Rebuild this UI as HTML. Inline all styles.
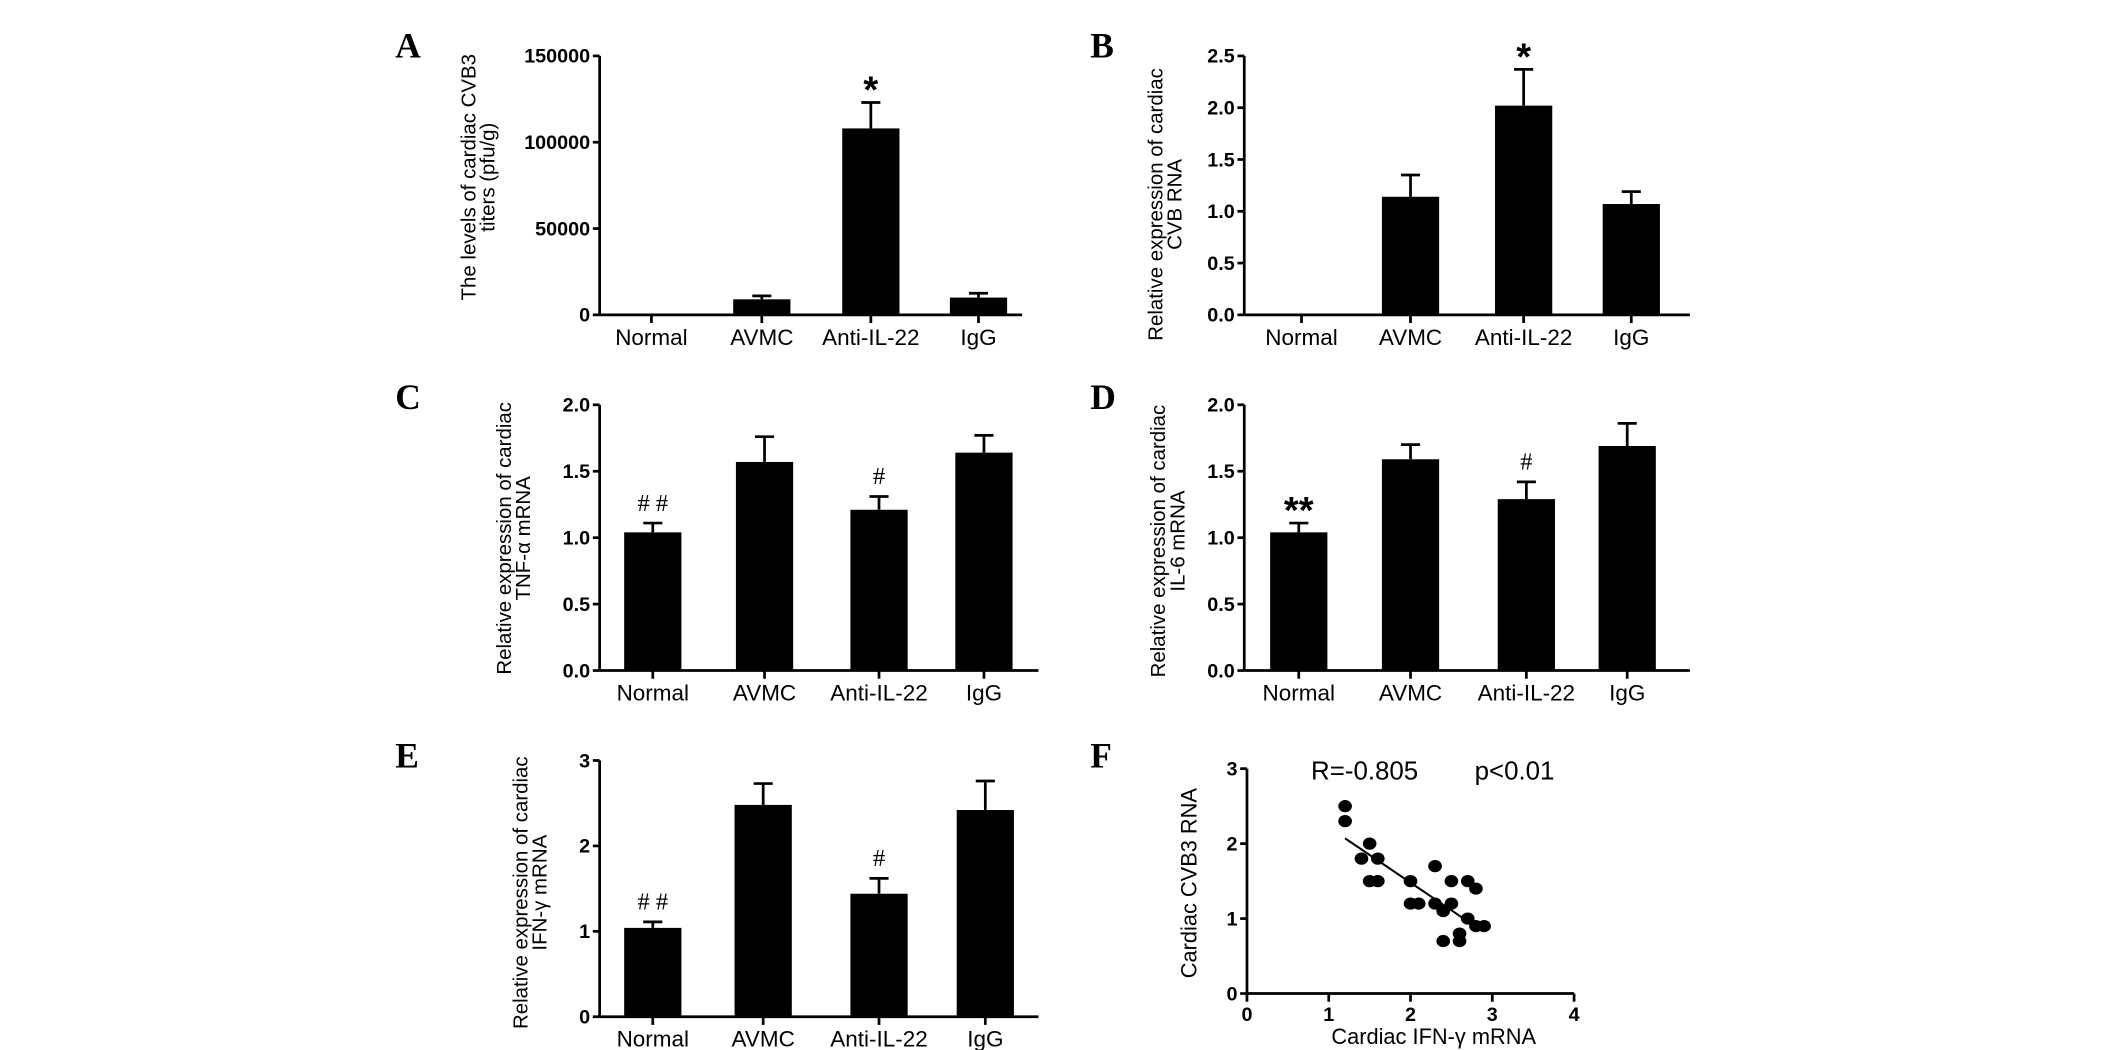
<!DOCTYPE html>
<html><head><meta charset="utf-8"><style>
html,body{margin:0;padding:0;background:#fff;}
svg{display:block;}
.tick{font-family:"Liberation Sans Narrow","Liberation Sans",sans-serif;font-weight:bold;font-size:14.5px;}
.cat{font-family:"Liberation Sans Narrow","Liberation Sans",sans-serif;font-size:16.5px;}
.lab{font-family:"Liberation Sans",sans-serif;font-size:15px;}
.pl{font-family:"Liberation Serif",serif;font-weight:bold;font-size:26px;}
</style></head><body>
<svg id="fig" width="2126" height="1050" viewBox="0 0 1560 770.4" xmlns="http://www.w3.org/2000/svg"></svg>
<script>
const categories = ["Normal","AVMC","Anti-IL-22","IgG"];
const valuesA = [0, 9000, 108000, 10000];
const errorsA = [0, 11000, 123000, 12500];
const ticksA = [0, 50000, 100000, 150000];
const valuesB = [0, 1.14, 2.02, 1.07];
const errorsB = [0, 1.35, 2.37, 1.19];
const ticksB = [0.0, 0.5, 1.0, 1.5, 2.0, 2.5];
const valuesC = [1.04, 1.57, 1.21, 1.64];
const errorsC = [1.11, 1.76, 1.31, 1.77];
const ticksC = [0.0, 0.5, 1.0, 1.5, 2.0];
const valuesD = [1.04, 1.59, 1.29, 1.69];
const errorsD = [1.11, 1.70, 1.42, 1.86];
const ticksD = [0.0, 0.5, 1.0, 1.5, 2.0];
const valuesE = [1.04, 2.48, 1.44, 2.42];
const errorsE = [1.11, 2.73, 1.62, 2.76];
const ticksE = [0, 1, 2, 3];
const annotA = ["", "", "*", ""];
const annotB = ["", "", "*", ""];
const annotC = ["##", "", "#", ""];
const annotD = ["**", "", "#", ""];
const annotE = ["##", "", "#", ""];
const scatterX = [1.2,1.2,1.5,1.4,1.6,1.5,1.6,2.0,2.0,2.1,2.3,2.3,2.4,2.5,2.5,2.7,2.8,2.7,2.8,2.9,2.4,2.6,2.6];
const scatterY = [2.5,2.3,2.0,1.8,1.8,1.5,1.5,1.5,1.2,1.2,1.7,1.2,1.1,1.2,1.5,1.5,1.4,1.0,0.9,0.9,0.7,0.7,0.8];
const fitX = [1.2, 2.65];
const fitY = [2.07, 1.0];
const ticksFx = [0,1,2,3,4];
const ticksFy = [0,1,2,3];

const NS="http://www.w3.org/2000/svg";
const svg=document.getElementById('fig');
function el(tag,attrs,parent,text){const e=document.createElementNS(NS,tag);for(const k in attrs)e.setAttribute(k,attrs[k]);if(text!==undefined)e.textContent=text;(parent||svg).appendChild(e);return e;}

function barPanel(o){
  const g=el('g',{});
  
  
  const ymax=o.ticks[o.ticks.length-1];
  const y=v=>o.y0-(v/ymax)*(o.y0-o.yTop);
  const L=el('text',{x:o.letterX,y:o.letterY,class:'pl'},g,o.id.toUpperCase());
  
  
  const ax=el('line',{x1:o.ax,y1:o.yTop,x2:o.ax,y2:o.y0,stroke:'#000','stroke-width':2},g);
  
  
  const xx=el('line',{x1:o.ax,y1:o.y0,x2:o.xEnd,y2:o.y0,stroke:'#000','stroke-width':2},g);
  
  
  o.ticks.forEach(t=>{
    el('line',{x1:o.ax-5,y1:y(t),x2:o.ax,y2:y(t),stroke:'#000','stroke-width':2},g);
    const tl=el('text',{x:o.ax-7,y:y(t)+5,'text-anchor':'end',class:'tick'},g,o.fmt(t));
    
    
  });
  categories.forEach((c,i)=>{
    const cx=o.cx[i];
    el('line',{x1:cx,y1:o.y0,x2:cx,y2:o.y0+6,stroke:'#000','stroke-width':2},g);
    const cl=el('text',{x:cx,y:o.y0+22,'text-anchor':'middle',class:'cat'},g,c);
    
    
    const v=o.values[i];
    if(v>0){
      const b=el('rect',{x:cx-21,y:y(v),width:42,height:o.y0-y(v),fill:'#000'},g);
      
      
      const e=o.errors[i];
      el('line',{x1:cx,y1:y(v),x2:cx,y2:y(e),stroke:'#000','stroke-width':2},g);
      el('line',{x1:cx-7,y1:y(e),x2:cx+7,y2:y(e),stroke:'#000','stroke-width':2},g);
    }
    if(o.annot[i]){
      const star=o.annot[i].indexOf('*')>=0;
      const st=star?'font-family:"Liberation Sans",sans-serif;font-weight:bold;font-size:28px;':'font-family:"Liberation Serif",serif;font-size:18px;';
      const a=el('text',{x:cx,y:y(o.errors[i])-(star?0:9),'text-anchor':'middle',style:st},g,star?o.annot[i]:o.annot[i].split('').join(' '));
      
      
    }
  });
  const midY=(o.yTop+o.y0)/2;
  o.ylab.forEach((t,k)=>{
    const yl=el('text',{x:0,y:0,'text-anchor':'middle',class:'lab',transform:`translate(${o.labX+k*14},${o.labY||midY}) rotate(-90)`},g,t);
    
    
  });
}
const f1=t=>t.toFixed(1), f0=t=>String(t);
barPanel({id:'a',values:valuesA,errors:errorsA,ticks:ticksA,annot:annotA,fmt:f0,ax:440,xEnd:750,yTop:41,y0:231,cx:[478,559,639,718],letterX:290,letterY:42,ylab:['The levels of cardiac CVB3','titers  (pfu/g)'],labX:349,labY:130});
barPanel({id:'b',values:valuesB,errors:errorsB,ticks:ticksB,annot:annotB,fmt:f1,ax:913,xEnd:1240,yTop:41,y0:231,cx:[955,1035,1118,1197],letterX:800,letterY:42,ylab:['Relative expression of cardiac','CVB RNA'],labX:853,labY:150});
barPanel({id:'c',values:valuesC,errors:errorsC,ticks:ticksC,annot:annotC,fmt:f1,ax:440,xEnd:762,yTop:297,y0:492,cx:[479,561,645,722],letterX:290,letterY:300,ylab:['Relative expression of cardiac','TNF-\u03b1 mRNA'],labX:375,labY:395});
barPanel({id:'d',values:valuesD,errors:errorsD,ticks:ticksD,annot:annotD,fmt:f1,ax:913,xEnd:1240,yTop:297,y0:492,cx:[953,1035,1120,1194],letterX:800,letterY:300,ylab:['Relative expression of cardiac','IL-6 mRNA'],labX:855,labY:397});
barPanel({id:'e',values:valuesE,errors:errorsE,ticks:ticksE,annot:annotE,fmt:f0,ax:440,xEnd:762,yTop:558,y0:746,cx:[479,560,645,723],letterX:290,letterY:563,ylab:['Relative expression of cardiac','IFN-\u03b3 mRNA'],labX:387,labY:655});

// Panel F scatter
(function(){
  const g=el('g',{});
  
  
  const X0=915,X1=1155,Y0=729,Y1=564;
  const sx=v=>X0+v/4*(X1-X0), sy=v=>Y0-v/3*(Y0-Y1);
  const L=el('text',{x:800,y:563,class:'pl'},g,'F');
  
  
  el('line',{x1:X0,y1:Y1,x2:X0,y2:Y0,stroke:'#000','stroke-width':2},g);
  el('line',{x1:X0,y1:Y0,x2:X1,y2:Y0,stroke:'#000','stroke-width':2},g);
  ticksFy.forEach(t=>{el('line',{x1:X0-5,y1:sy(t),x2:X0,y2:sy(t),stroke:'#000','stroke-width':2},g);
    const tl=el('text',{x:X0-7,y:sy(t)+5,'text-anchor':'end',class:'tick'},g,String(t));
    
    });
  ticksFx.forEach(t=>{el('line',{x1:sx(t),y1:Y0,x2:sx(t),y2:Y0+6,stroke:'#000','stroke-width':2},g);
    const tl=el('text',{x:sx(t),y:Y0+20,'text-anchor':'middle',class:'tick'},g,String(t));
    
    });
  scatterX.forEach((v,i)=>{const c=el('ellipse',{cx:sx(v),cy:sy(scatterY[i]),rx:5,ry:4.5,fill:'#000'},g);
    
    });
  const ln=el('line',{x1:sx(fitX[0]),y1:sy(fitY[0]),x2:sx(fitX[1]),y2:sy(fitY[1]),stroke:'#000','stroke-width':1.5},g);
  
  
  const r=el('text',{x:962,y:572,style:'font-family:"Liberation Sans",sans-serif;font-size:19px;'},g,'R=-0.805');
  
  
  const p=el('text',{x:1082,y:572,style:'font-family:"Liberation Sans",sans-serif;font-size:19px;'},g,'p<0.01');
  
  
  const xl=el('text',{x:1052,y:766,'text-anchor':'middle',style:'font-family:"Liberation Sans",sans-serif;font-size:16px;'},g,'Cardiac IFN-\u03b3 mRNA');
  
  
  const yl=el('text',{x:0,y:0,'text-anchor':'middle',style:'font-family:"Liberation Sans",sans-serif;font-size:16px;',transform:'translate(878,648) rotate(-90)'},g,'Cardiac CVB3 RNA');
  
  
})();
</script>
</body></html>
